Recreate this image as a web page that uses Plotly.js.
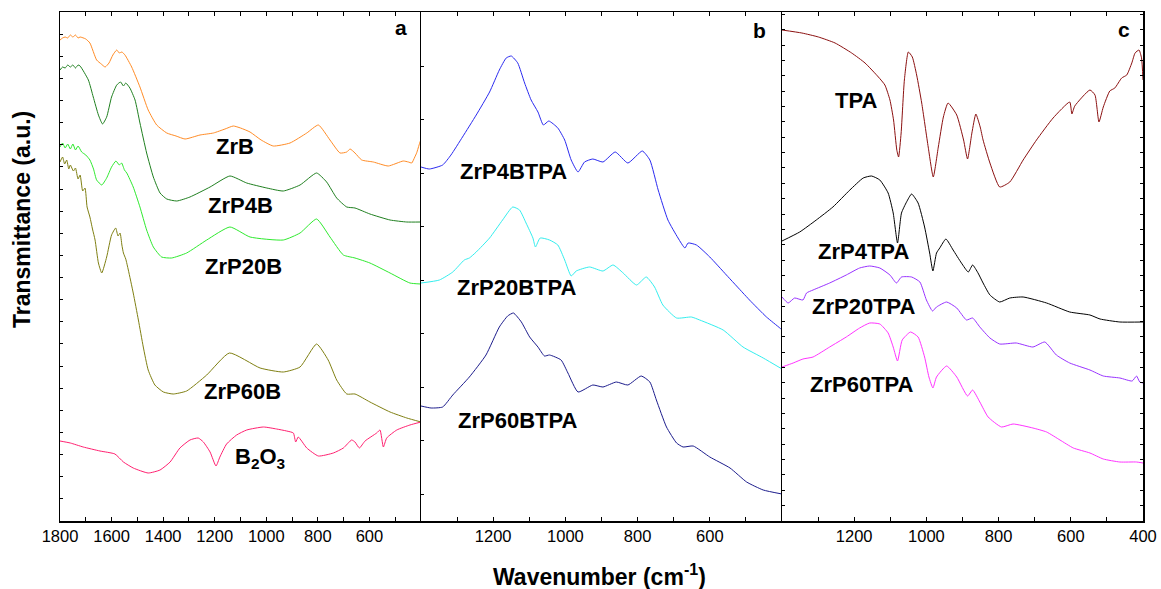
<!DOCTYPE html>
<html>
<head>
<meta charset="utf-8">
<script src="https://cdn.plot.ly/plotly-3.0.1.min.js"></script>
<style>html,body{margin:0;padding:0;background:#fff;}#chart{width:1161px;height:589px;}</style>
</head>
<body>
<div id="chart"></div>
<script>
// ---------- Data (wavenumber, cm-1 ; transmittance, arbitrary units) ----------
// Panel a
const wnZrB = [1800,1790,1780,1770,1760,1750,1740,1730,1722,1700,1684,1658,1640,1625,1610,1595,1580,1570,1560,1548,1522,1490,1458,1425,1386,1350,1315,1257,1205,1160,1128,1100,1063,1020,973,908,843,798,753,714,688,675,656,630,585,527,469,449,436,424,417,405,400];
const tZrB  = [481,483,484,483,486,484,486,483,484,482,478,461,457,454,458,466,471,468,469,466,454,434,411,396,388,385,382,386,388,392,395,393,389,381,375,378,388,396,381,368,369,372,368,361,359,355,360,359,358,364,368,378,382];

const wnZrP4B = [1800,1790,1780,1770,1760,1750,1740,1730,1722,1690,1671,1651,1635,1619,1600,1580,1565,1554,1545,1529,1509,1490,1464,1438,1412,1386,1347,1296,1218,1141,1076,998,934,869,805,766,727,688,656,598,520,455,400];
const tZrP4B  = [451,454,453,456,454,456,453,456,455,441,424,406,397,404,424,436,439,435,438,433,421,398,368,344,328,322,320,324,334,345,338,333,330,336,348,339,323,314,313,307,301,299,299];

const wnZrP20B = [1800,1790,1780,1770,1760,1750,1740,1730,1716,1700,1684,1670,1658,1638,1619,1600,1583,1570,1561,1550,1541,1516,1490,1464,1438,1406,1367,1309,1231,1141,1063,934,869,805,753,701,656,598,520,443,400];
const tZrP20B  = [374,378,373,377,372,377,371,375,369,366,361,352,341,336,343,354,360,356,358,351,348,334,314,291,274,264,263,268,281,294,284,281,288,302,284,266,263,258,248,238,237];

const wnZrP60B = [1800,1790,1782,1774,1766,1760,1748,1740,1730,1722,1712,1703,1695,1684,1674,1664,1651,1638,1619,1600,1584,1575,1567,1560,1554,1545,1535,1516,1496,1477,1458,1432,1399,1361,1309,1231,1143,1024,934,869,805,760,727,688,656,598,520,455,400];
const tZrP60B  = [359,364,357,361,352,356,350,353,342,346,330,333,314,304,292,281,258,248,264,286,293,285,288,276,268,262,251,228,201,174,151,136,129,127,130,146,168,153,149,154,177,161,141,127,127,119,109,103,99];

const wnB2O3 = [1800,1760,1710,1645,1587,1554,1516,1458,1412,1373,1335,1296,1264,1244,1218,1195,1180,1154,1115,1076,1011,960,921,895,886,876,843,798,740,701,669,656,639,617,572,559,546,533,494,443,400];
const tB2O3  = [80,78,74,70,67,59,53,48,51,59,73,81,83,79,69,55,64,77,86,91,94,92,90,88,79,84,73,65,68,73,81,79,73,80,88,91,74,83,91,96,99];

// Panel b
const wnZrP4BTPA = [1400,1377,1340,1317,1285,1247,1210,1183,1164,1150,1132,1113,1095,1076,1061,1046,1021,1002,984,965,947,924,896,862,827,787,766,743,716,688,669,660,637,600,554,508,490,443,406,400];
const tZrP4BTPA  = [354,352,356,366,384,406,429,451,463,465,458,438,421,409,396,400,393,381,361,349,359,362,359,369,358,370,361,331,301,283,273,278,276,264,246,228,221,204,193,191];

const wnZrP20BTPA = [1400,1349,1312,1280,1266,1247,1210,1174,1146,1127,1109,1090,1083,1070,1044,1021,1002,984,970,933,896,868,840,803,776,753,730,692,651,628,563,508,452,400];
const tZrP20BTPA  = [238,241,249,261,263,269,283,301,314,311,298,283,274,283,281,276,261,245,250,254,250,256,248,236,244,234,216,203,204,201,191,174,163,152];

const wnZrP60BTPA = [1400,1372,1340,1312,1266,1220,1183,1160,1144,1122,1099,1076,1058,1044,1012,993,965,924,896,859,827,790,766,748,720,692,674,646,600,544,498,452,400];
const tZrP60BTPA  = [115,113,114,126,144,166,194,205,208,199,184,174,165,166,161,148,129,136,134,139,136,145,139,121,94,78,74,75,64,53,39,31,27];

// Panel c
const wnTPA = [1400,1345,1299,1253,1207,1170,1133,1115,1101,1091,1082,1077,1070,1061,1050,1039,1027,1013,995,981,967,953,940,916,897,886,874,863,851,843,824,797,769,732,695,649,603,597,589,547,533,522,510,492,478,459,445,431,422,411,404,400];
const tTPA  = [491,488,484,478,468,458,444,436,421,401,371,364,388,441,469,464,446,418,374,344,374,404,418,406,381,362,388,407,394,381,358,334,339,361,381,403,419,407,415,431,426,399,414,430,433,443,446,458,468,471,463,441];

const wnZrP4TPA = [1400,1351,1305,1259,1212,1175,1152,1129,1106,1092,1080,1069,1055,1041,1023,1005,991,982,972,963,946,926,903,884,872,857,843,824,797,769,732,667,603,547,519,464,400];
const tZrP4TPA  = [280,289,301,314,331,343,345,341,328,308,278,308,319,327,318,294,268,250,268,273,282,271,258,249,256,248,238,226,219,223,224,218,209,206,202,199,199];

const wnZrP20TPA = [1400,1383,1365,1342,1332,1314,1268,1222,1185,1157,1129,1101,1083,1069,1041,1018,1000,983,972,944,916,889,872,852,824,797,751,705,672,640,603,547,510,464,430,418,409,400];
const tZrP20TPA  = [224,218,223,221,228,231,238,246,253,255,253,246,238,244,244,239,221,210,214,219,213,201,203,194,183,177,178,174,179,166,158,151,145,143,140,145,139,138];

const wnZrP60TPA = [1400,1369,1342,1314,1268,1222,1185,1157,1129,1106,1092,1080,1067,1044,1023,1005,993,982,972,944,916,886,872,852,829,792,760,705,667,630,593,547,510,464,418,400];
const tZrP60TPA  = [154,158,162,164,174,184,193,198,197,188,174,160,181,189,184,164,144,133,144,155,144,125,131,119,104,94,97,93,89,81,73,68,62,59,59,58];

// Tick labels
const aTickVals = [1800,1700,1600,1500,1400,1300,1200,1100,1000,900,800,700,600,500,400];
const aTickText = ['1800',' ','1600',' ','1400',' ','1200',' ','1000',' ','800',' ','600',' ',' '];
const bTickVals = [1400,1300,1200,1100,1000,900,800,700,600,500,400];
const bTickText = [' ',' ','1200',' ','1000',' ','800',' ','600',' ',' '];
const cTickVals = [1400,1300,1200,1100,1000,900,800,700,600,500,400];
const cTickText = [' ',' ','1200',' ','1000',' ','800',' ','600',' ','400'];

// ---------- Traces ----------
function tr(x, y, color, xa, ya){
  return {x:x, y:y, type:'scatter', mode:'lines', xaxis:xa, yaxis:ya,
          line:{color:color, width:1, shape:'spline', smoothing:0.5}, hoverinfo:'skip', showlegend:false};
}
const data = [
  tr(wnZrB, tZrB, '#FF8C26', 'x', 'y'),
  tr(wnZrP4B, tZrP4B, '#1F7F1F', 'x', 'y'),
  tr(wnZrP20B, tZrP20B, '#2EEA2E', 'x', 'y'),
  tr(wnZrP60B, tZrP60B, '#7F7F12', 'x', 'y'),
  tr(wnB2O3, tB2O3, '#FF2070', 'x', 'y'),
  tr(wnZrP4BTPA, tZrP4BTPA, '#2A2AF0', 'x2', 'y2'),
  tr(wnZrP20BTPA, tZrP20BTPA, '#33EEEE', 'x2', 'y2'),
  tr(wnZrP60BTPA, tZrP60BTPA, '#1C1C8C', 'x2', 'y2'),
  tr(wnTPA, tTPA, '#8B1010', 'x3', 'y3'),
  tr(wnZrP4TPA, tZrP4TPA, '#000000', 'x3', 'y3'),
  tr(wnZrP20TPA, tZrP20TPA, '#9933FF', 'x3', 'y3'),
  tr(wnZrP60TPA, tZrP60TPA, '#FF33FF', 'x3', 'y3')
];

// ---------- Layout ----------
const FONT = 'Liberation Sans, Arial, sans-serif';
function xax(dom, rng, vals, text, anchor){
  return {domain:dom, range:rng, autorange:false, anchor:anchor,
    tickmode:'array', tickvals:vals, ticktext:text,
    ticks:'inside', ticklen:4, tickwidth:1, tickcolor:'#000',
    showline:true, linecolor:'#000', linewidth:1.5, mirror:'ticks',
    showgrid:false, zeroline:false,
    tickfont:{family:FONT, size:16.5, color:'#000'}};
}
function yax(anchor, t0, dt, mir){
  return {domain:[0,1], range:[0,509], autorange:false, anchor:anchor,
    tick0:t0, dtick:dt, ticks:'inside', ticklen:3, tickwidth:1, tickcolor:'#000',
    showticklabels:false, showline:true, linecolor:'#000', linewidth:1.5, mirror:mir,
    showgrid:false, zeroline:false};
}
function lab(text, xp, yp, size){
  return {text:'<b>'+text+'</b>', xref:'paper', yref:'paper', x:xp, y:yp,
    xanchor:'center', yanchor:'middle', showarrow:false,
    font:{family:FONT, size:size||22, color:'#000'}};
}
const layout = {
  width:1161, height:589,
  margin:{l:60, r:18, t:12, b:68},
  paper_bgcolor:'#fff', plot_bgcolor:'#fff',
  showlegend:false,
  xaxis:  xax([0,1/3], [1800,400], aTickVals, aTickText, 'y'),
  xaxis2: xax([1/3,2/3], [1400,400], bTickVals, bTickText, 'y2'),
  xaxis3: xax([2/3,1], [1400,400], cTickVals, cTickText, 'y3'),
  yaxis:  yax('x', 0, 22.13, false),
  yaxis2: yax('x2', 27, 53.5, false),
  yaxis3: yax('x3', 0, 15.35, 'ticks'),
  annotations:[
    lab('a', 0.3149, 0.9686, 21),
    lab('b', 0.6459, 0.9627, 21),
    lab('c', 0.9825, 0.9656, 21),
    lab('ZrB', 0.1620, 0.7358),
    lab('ZrP4B', 0.1665, 0.6189),
    lab('ZrP20B', 0.1693, 0.5000),
    lab('ZrP60B', 0.1682, 0.2544),
    lab('B<sub>2</sub>O<sub>3</sub>', 0.1847, 0.1238),
    lab('ZrP4BTPA', 0.4186, 0.6866),
    lab('ZrP20BTPA', 0.4217, 0.4591),
    lab('ZrP60BTPA', 0.4232, 0.1984),
    lab('TPA', 0.7348, 0.8261),
    lab('ZrP4TPA', 0.7417, 0.5291),
    lab('ZrP20TPA', 0.7428, 0.4220),
    lab('ZrP60TPA', 0.7405, 0.2682),
    {text:'<b>Wavenumber (cm<sup>-1</sup>)</b>', xref:'paper', yref:'paper', x:(599-60)/1083, y:(521-575)/509,
     xanchor:'center', yanchor:'middle', showarrow:false, font:{family:FONT, size:23, color:'#000'}},
    {text:'<b>Transmittance (a.u.)</b>', xref:'paper', yref:'paper', x:(22-60)/1083, y:(521-220)/509,
     xanchor:'center', yanchor:'middle', showarrow:false, textangle:-90, font:{family:FONT, size:23, color:'#000'}}
  ]
};
Plotly.newPlot('chart', data, layout, {staticPlot:true, displayModeBar:false});
</script>
</body>
</html>
